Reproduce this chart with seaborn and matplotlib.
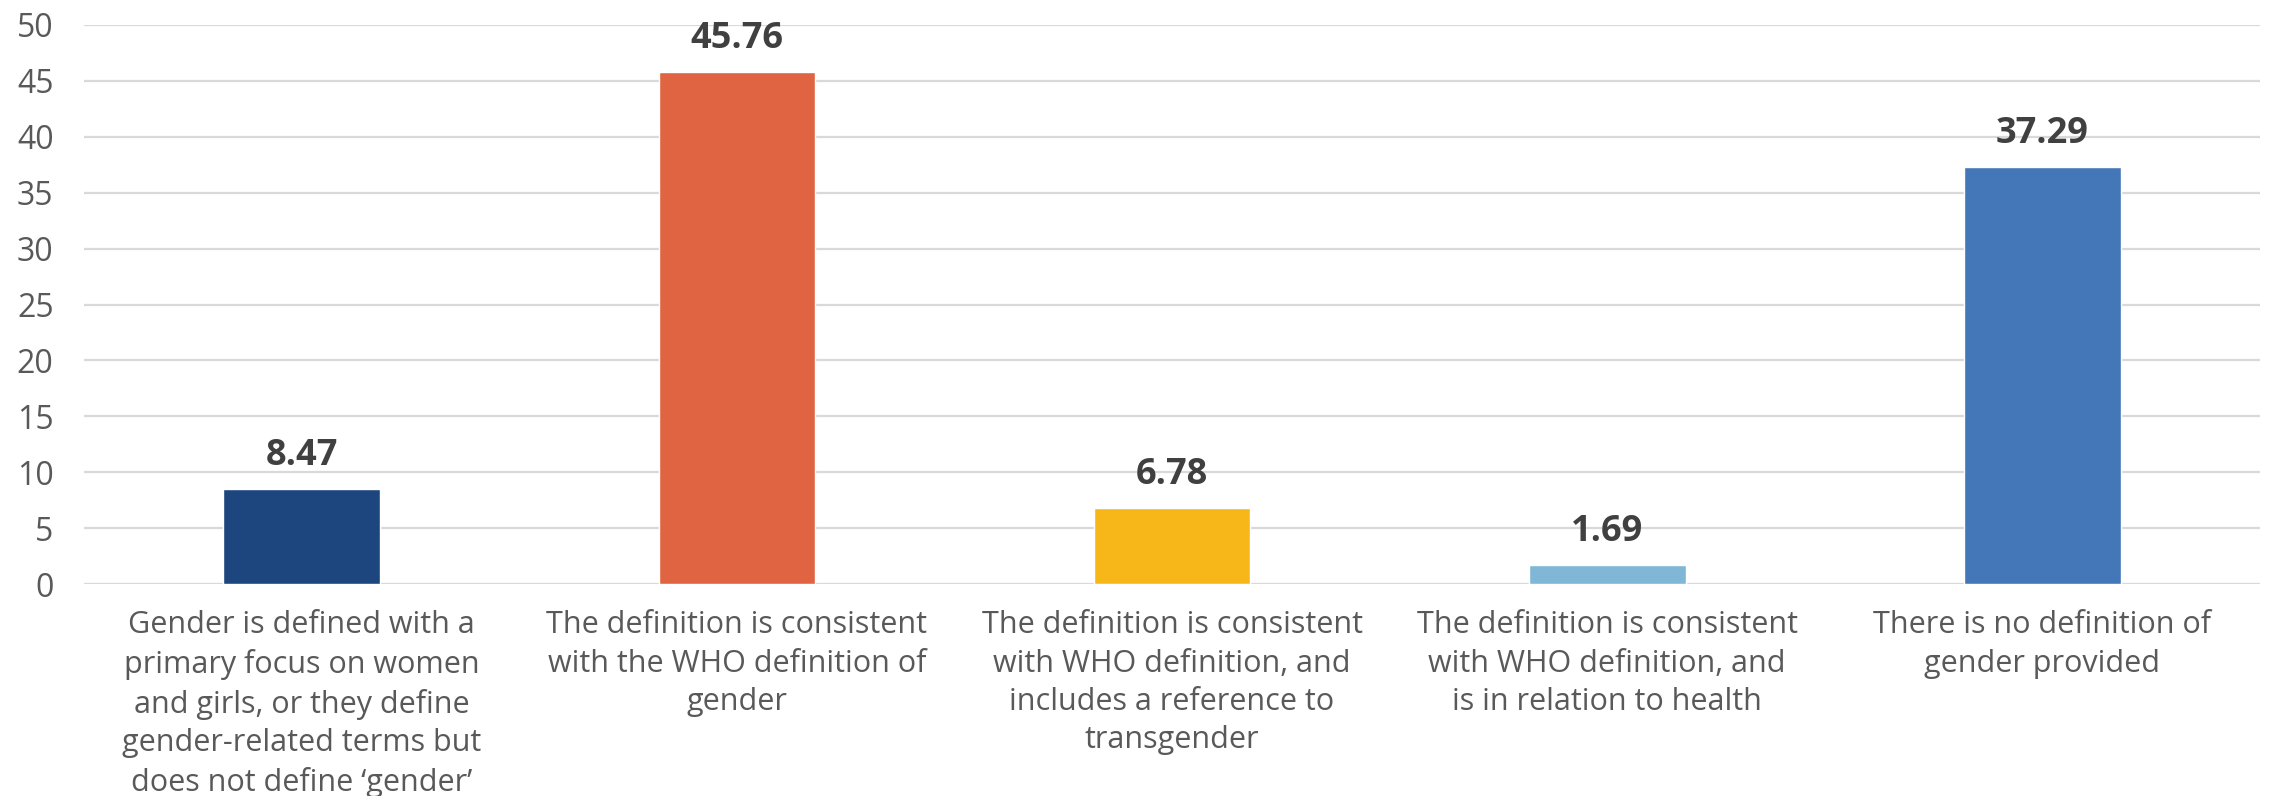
import matplotlib
matplotlib.use("Agg")
import matplotlib.pyplot as plt
import seaborn as sns
import pandas as pd

categories = [
    "Gender is defined with a\nprimary focus on women\nand girls, or they define\ngender-related terms but\ndoes not define \u2018gender\u2019",
    "The definition is consistent\nwith the WHO definition of\ngender",
    "The definition is consistent\nwith WHO definition, and\nincludes a reference to\ntransgender",
    "The definition is consistent\nwith WHO definition, and\nis in relation to health",
    "There is no definition of\ngender provided",
]
values = [8.47, 45.76, 6.78, 1.69, 37.29]
value_labels = ["8.47", "45.76", "6.78", "1.69", "37.29"]
colors = ["#1D467F", "#E06441", "#F7B718", "#80B7D6", "#4477B8"]
yticks = [0, 5, 10, 15, 20, 25, 30, 35, 40, 45, 50]

sns.set_theme(style="white")
plt.rcParams["font.family"] = ["Open Sans", "DejaVu Sans"]

df = pd.DataFrame({"category": categories, "value": values})

fig = plt.figure(figsize=(22.72, 7.96), dpi=100)
ax = fig.add_axes([0.037, 0.2663, 0.9577, 0.7023])

sns.barplot(data=df, x="category", y="value", hue="category",
            palette=colors, width=0.36, legend=False, ax=ax,
            saturation=1, zorder=3)

ax.set_ylim(0, 50)
ax.set_xlim(-0.5, len(categories) - 0.5)
ax.set_yticks(yticks)
ax.set_yticklabels([str(t) for t in yticks])
ax.yaxis.grid(True, color="#D9D9D9", linewidth=1.6, zorder=0)
ax.set_axisbelow(True)
for s in ["top", "right", "left", "bottom"]:
    ax.spines[s].set_visible(False)
ax.axhline(0, color="#D9D9D9", linewidth=2.2, zorder=2)

ax.set_xlabel("")
ax.set_ylabel("")
ax.tick_params(axis="y", length=0, pad=22, labelsize=23, labelcolor="#595959")
ax.tick_params(axis="x", length=0, pad=19, labelsize=22, labelcolor="#595959")
for lbl in ax.get_xticklabels():
    lbl.set_linespacing(1.36)
    lbl.set_ha("center")
    lbl.set_va("top")

for i, (v, t) in enumerate(zip(values, value_labels)):
    ax.annotate(t, (i, v), xytext=(0, 11), textcoords="offset points",
                ha="center", va="bottom", fontsize=26, fontweight="bold",
                color="#404040")

fig.savefig("out.png", dpi=100, facecolor="white")
